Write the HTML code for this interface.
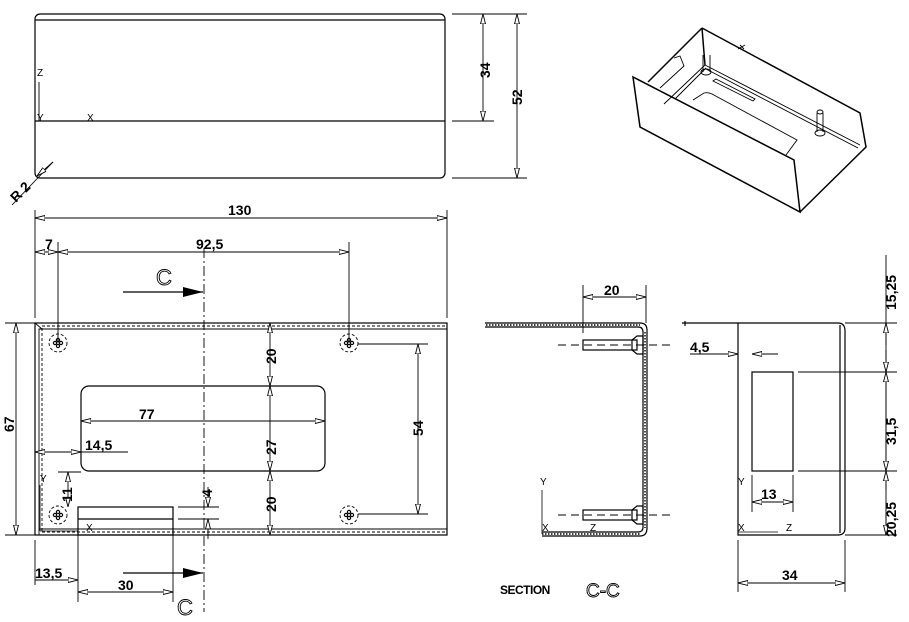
<!DOCTYPE html>
<html><head><meta charset="utf-8"><style>
html,body{margin:0;padding:0;background:#fff;}
svg{display:block;}
text{font-family:"Liberation Sans",sans-serif;fill:#000;}
.d{font-weight:bold;font-size:14px;}
.a{font-size:10px;}
</style></head><body>
<svg width="909" height="622" viewBox="0 0 909 622" xmlns="http://www.w3.org/2000/svg">
<defs>
<marker id="ar" viewBox="0 0 10 6" refX="10" refY="3" markerWidth="10" markerHeight="6" markerUnits="userSpaceOnUse" orient="auto-start-reverse">
<path d="M0,0.5 L10,3 L0,5.5 Z" fill="#fff" stroke="#000" stroke-width="0.9"/></marker>
<marker id="bk" viewBox="0 0 20 10" refX="20" refY="5" markerWidth="20" markerHeight="10" markerUnits="userSpaceOnUse" orient="auto">
<path d="M0,0 L20,5 L0,10 Z" fill="#000"/></marker>
<g id="hole"><circle r="9" fill="none" stroke="#000" stroke-width="0.9" stroke-dasharray="3,2"/>
<circle cx="-3" cy="0" r="1.6" fill="none" stroke="#000" stroke-width="1.2"/><circle cx="3" cy="0" r="1.6" fill="none" stroke="#000" stroke-width="1.2"/>
<circle cx="0" cy="-3" r="1.6" fill="none" stroke="#000" stroke-width="1.2"/><circle cx="0" cy="3" r="1.6" fill="none" stroke="#000" stroke-width="1.2"/></g>
</defs>
<g stroke="#000" fill="none" stroke-width="1.2">
<!-- top view -->
<rect x="35" y="14" width="410" height="164" rx="5"/>
<line x1="35" y1="20" x2="445" y2="20"/>
<line x1="35" y1="121" x2="445" y2="121"/>
<line x1="39" y1="82" x2="39" y2="121" stroke-width="0.9"/>
<line x1="39" y1="121" x2="78" y2="121" stroke-width="0.9"/>
<line x1="452" y1="14" x2="527" y2="14" stroke-width="0.9"/>
<line x1="452" y1="121" x2="494" y2="121" stroke-width="0.9"/>
<line x1="452" y1="178" x2="527" y2="178" stroke-width="0.9"/>
<line x1="483" y1="14" x2="483" y2="121" stroke-width="0.9" marker-start="url(#ar)" marker-end="url(#ar)"/>
<line x1="517" y1="14" x2="517" y2="178" stroke-width="0.9" marker-start="url(#ar)" marker-end="url(#ar)"/>
<line x1="12" y1="205" x2="53" y2="162" stroke-width="0.9"/>
<line x1="53" y1="162" x2="37" y2="176" stroke-width="0.9" marker-end="url(#ar)"/>
<!-- front view dims -->
<line x1="35" y1="210" x2="35" y2="318" stroke-width="0.9"/>
<line x1="447" y1="210" x2="447" y2="318" stroke-width="0.9"/>
<line x1="35" y1="218" x2="447" y2="218" stroke-width="0.9" marker-start="url(#ar)" marker-end="url(#ar)"/>
<line x1="58" y1="242" x2="58" y2="343" stroke-width="0.9"/>
<line x1="349" y1="242" x2="349" y2="343" stroke-width="0.9"/>
<line x1="35" y1="252" x2="58" y2="252" stroke-width="0.9" marker-start="url(#ar)" marker-end="url(#ar)"/>
<line x1="58" y1="252" x2="349" y2="252" stroke-width="0.9" marker-start="url(#ar)" marker-end="url(#ar)"/>
<line x1="204" y1="248" x2="204" y2="612" stroke-width="0.9" stroke-dasharray="10,3,2,3"/>
<line x1="123" y1="292" x2="203" y2="292" marker-end="url(#bk)"/>
<line x1="123" y1="573" x2="203" y2="573" marker-end="url(#bk)"/>
<!-- front outline -->
<rect x="35" y="323" width="412" height="212"/>
<path d="M39,535 V329 H447 M39,529 H447" stroke-width="0.9"/>
<path d="M42,531 V326 H447 M42,532 H447" stroke-width="0.9" stroke-dasharray="3,2"/>
<line x1="35" y1="323" x2="42" y2="329" stroke-width="0.9"/>
<line x1="5" y1="323" x2="35" y2="323" stroke-width="0.9"/>
<line x1="5" y1="535" x2="35" y2="535" stroke-width="0.9"/>
<line x1="16" y1="323" x2="16" y2="535" stroke-width="0.9" marker-start="url(#ar)" marker-end="url(#ar)"/>
<use href="#hole" x="58" y="343"/><use href="#hole" x="349" y="343"/>
<use href="#hole" x="58" y="515"/><use href="#hole" x="349" y="515"/>
<rect x="81" y="386" width="244" height="85" rx="8"/>
<line x1="81" y1="421" x2="325" y2="421" stroke-width="0.9" marker-start="url(#ar)" marker-end="url(#ar)"/>
<line x1="270" y1="323" x2="270" y2="386" stroke-width="0.9" marker-start="url(#ar)" marker-end="url(#ar)"/>
<line x1="270" y1="386" x2="270" y2="471" stroke-width="0.9" marker-start="url(#ar)" marker-end="url(#ar)"/>
<line x1="270" y1="471" x2="270" y2="535" stroke-width="0.9" marker-start="url(#ar)" marker-end="url(#ar)"/>
<line x1="358" y1="344" x2="428" y2="344" stroke-width="0.9"/>
<line x1="358" y1="514" x2="428" y2="514" stroke-width="0.9"/>
<line x1="418" y1="344" x2="418" y2="514" stroke-width="0.9" marker-start="url(#ar)" marker-end="url(#ar)"/>
<line x1="35" y1="452" x2="81" y2="452" stroke-width="0.9" marker-start="url(#ar)" marker-end="url(#ar)"/>
<line x1="81" y1="452" x2="128" y2="452" stroke-width="0.9"/>
<line x1="58" y1="472" x2="81" y2="472" stroke-width="0.9"/>
<line x1="68" y1="472" x2="68" y2="507" stroke-width="0.9" marker-start="url(#ar)" marker-end="url(#ar)"/>
<rect x="78" y="507" width="95" height="28"/>
<line x1="78" y1="519" x2="173" y2="519"/>
<line x1="178" y1="507" x2="219" y2="507" stroke-width="0.9"/>
<line x1="178" y1="519" x2="219" y2="519" stroke-width="0.9"/>
<line x1="208" y1="487" x2="208" y2="507" stroke-width="0.9" marker-end="url(#ar)"/>
<line x1="208" y1="539" x2="208" y2="519" stroke-width="0.9" marker-end="url(#ar)"/>
<line x1="40" y1="485" x2="40" y2="531" stroke-width="0.8"/>
<line x1="40" y1="531" x2="78" y2="531" stroke-width="0.8"/>
<line x1="35" y1="540" x2="35" y2="585" stroke-width="0.9"/>
<line x1="78" y1="535" x2="78" y2="602" stroke-width="0.9"/>
<line x1="173" y1="535" x2="173" y2="602" stroke-width="0.9"/>
<line x1="35" y1="580" x2="78" y2="580" stroke-width="0.9" marker-end="url(#ar)"/>
<line x1="78" y1="592" x2="173" y2="592" stroke-width="0.9" marker-start="url(#ar)" marker-end="url(#ar)"/>
<!-- section C-C -->
<path d="M485,323 H640 Q647,323 647,330 V528 Q647,536 640,536 H542"/>
<path d="M485,327 H638 Q643,327 643,332 V527 Q643,532 638,532 H542"/>
<path d="M486,325 H640 M645,332 V528 M542,534 H640" stroke-width="1.4" stroke-dasharray="1.5,1.5"/>
<line x1="583" y1="285" x2="583" y2="333" stroke-width="0.9"/>
<line x1="646" y1="285" x2="646" y2="323" stroke-width="0.9"/>
<line x1="583" y1="297" x2="646" y2="297" stroke-width="0.9" marker-start="url(#ar)" marker-end="url(#ar)"/>
<rect x="583" y="340" width="54" height="10"/>
<path d="M637,336 L643,336 L643,354 L637,354 L632,350 L632,340 Z"/>
<rect x="583" y="510" width="54" height="10"/>
<path d="M637,506 L643,506 L643,524 L637,524 L632,520 L632,510 Z"/>
<line x1="558" y1="345" x2="672" y2="345" stroke-width="0.9" stroke-dasharray="8,5"/>
<line x1="558" y1="515" x2="672" y2="515" stroke-width="0.9" stroke-dasharray="8,5"/>
<line x1="542" y1="490" x2="542" y2="534" stroke-width="0.8"/>
<line x1="542" y1="532" x2="582" y2="532" stroke-width="0.8"/>
<!-- right view -->
<path d="M682,323 H838 Q845,323 845,331 V528 Q845,535 838,535 H738 V323" />
<line x1="685" y1="321" x2="685" y2="326"/>
<line x1="840" y1="325" x2="840" y2="533"/>
<rect x="752" y="372" width="41" height="99"/>
<line x1="798" y1="372" x2="897" y2="372" stroke-width="0.9"/>
<line x1="798" y1="471" x2="897" y2="471" stroke-width="0.9"/>
<line x1="845" y1="323" x2="897" y2="323" stroke-width="0.9"/>
<line x1="845" y1="535" x2="897" y2="535" stroke-width="0.9"/>
<line x1="886" y1="255" x2="886" y2="535" stroke-width="0.9"/>
<line x1="886" y1="345" x2="886" y2="323" stroke-width="0.9" marker-end="url(#ar)"/>
<line x1="886" y1="350" x2="886" y2="372" stroke-width="0.9" marker-end="url(#ar)"/>
<line x1="886" y1="372" x2="886" y2="471" stroke-width="0.9" marker-start="url(#ar)" marker-end="url(#ar)"/>
<line x1="886" y1="490" x2="886" y2="471" stroke-width="0.9" marker-end="url(#ar)"/>
<line x1="886" y1="515" x2="886" y2="535" stroke-width="0.9" marker-end="url(#ar)"/>
<line x1="690" y1="354" x2="738" y2="354" stroke-width="0.9" marker-end="url(#ar)"/>
<line x1="778" y1="354" x2="752" y2="354" stroke-width="0.9" marker-end="url(#ar)"/>
<line x1="752" y1="475" x2="752" y2="512" stroke-width="0.9"/>
<line x1="793" y1="475" x2="793" y2="512" stroke-width="0.9"/>
<line x1="752" y1="502" x2="793" y2="502" stroke-width="0.9" marker-start="url(#ar)" marker-end="url(#ar)"/>
<line x1="738" y1="490" x2="738" y2="532" stroke-width="0.8"/>
<line x1="738" y1="532" x2="778" y2="532" stroke-width="0.8"/>
<line x1="738" y1="540" x2="738" y2="592" stroke-width="0.9"/>
<line x1="845" y1="540" x2="845" y2="592" stroke-width="0.9"/>
<line x1="738" y1="583" x2="845" y2="583" stroke-width="0.9" marker-start="url(#ar)" marker-end="url(#ar)"/>
<!-- iso view -->
<g stroke-width="1.5">
<path d="M633,77 L640,127 L800,212 L794,160 Z"/>
<path d="M702,28 L860,113 L866,147 L800,212"/>
<path d="M702,28 L648,82"/>
<path d="M702,28 L705,65"/>
</g>
<g stroke-width="0.9">
<path d="M705,65 L664,104 M706,68 L675,99 M705,65 L860,145 M706,69 L858,148"/>
<path d="M674,58 L680,56 L684,66 L660,88"/>
<path d="M693,100 L704,93 Q708,92 712,94 L797,140 L786,155"/>
<path d="M716,79 L755,99 L753,101 L713,81 Z"/>
<path d="M703,55 L703,72 M710,55 L710,72"/>
<ellipse cx="706" cy="72" rx="5" ry="3"/>
<path d="M817,113 L817,132 M823,113 L823,132"/>
<ellipse cx="820" cy="112" rx="3" ry="2"/>
<ellipse cx="820" cy="133" rx="5" ry="3"/>
<path d="M740,45 L744,49 M738,49 L745,45"/>
</g>
</g>
<!-- text -->
<text class="a" x="37" y="76">Z</text>
<text class="a" x="37" y="121">Y</text>
<text class="a" x="87" y="121">X</text>
<text class="d" transform="translate(490,78) rotate(-90)">34</text>
<text class="d" transform="translate(522,105) rotate(-90)">52</text>
<text class="d" transform="translate(16,203) rotate(-45)">R 2</text>
<text class="d" x="228" y="215">130</text>
<text class="d" x="45" y="249">7</text>
<text class="d" x="196" y="249">92,5</text>
<text x="156" y="285" style="font-size:22px;stroke:#000;stroke-width:0.9;fill:#fff;">C</text>
<text x="177" y="615" style="font-size:22px;stroke:#000;stroke-width:0.9;fill:#fff;">C</text>
<text class="d" transform="translate(14,432) rotate(-90)">67</text>
<text class="d" transform="translate(276,364) rotate(-90)">20</text>
<text class="d" transform="translate(276,455) rotate(-90)">27</text>
<text class="d" transform="translate(276,512) rotate(-90)">20</text>
<text class="d" transform="translate(423,436) rotate(-90)">54</text>
<text class="d" x="139" y="419">77</text>
<text class="d" x="85" y="450">14,5</text>
<text class="d" transform="translate(72,502) rotate(-90)">11</text>
<text class="d" transform="translate(212,497) rotate(-90)">4</text>
<text class="a" x="40" y="482">Y</text>
<text class="a" x="86" y="531">X</text>
<text class="d" x="35" y="578">13,5</text>
<text class="d" x="118" y="590">30</text>
<text class="d" x="604" y="295">20</text>
<text class="a" x="540" y="485">Y</text>
<text class="a" x="542" y="531">X</text>
<text class="a" x="590" y="531">Z</text>
<text class="d" x="690" y="352">4,5</text>
<text class="a" x="738" y="485">Y</text>
<text class="a" x="738" y="531">X</text>
<text class="a" x="786" y="531">Z</text>
<text class="d" x="761" y="499">13</text>
<text class="d" transform="translate(896,310) rotate(-90)">15,25</text>
<text class="d" transform="translate(896,445) rotate(-90)">31,5</text>
<text class="d" transform="translate(896,537) rotate(-90)">20,25</text>
<text class="d" x="782" y="580">34</text>
<text x="500" y="594" style="font-weight:bold;font-size:12px;letter-spacing:-0.5px;">SECTION</text>
<text x="586" y="597" style="font-size:19px;stroke:#000;stroke-width:0.9;fill:#fff;">C-C</text>
</svg>
</body></html>
